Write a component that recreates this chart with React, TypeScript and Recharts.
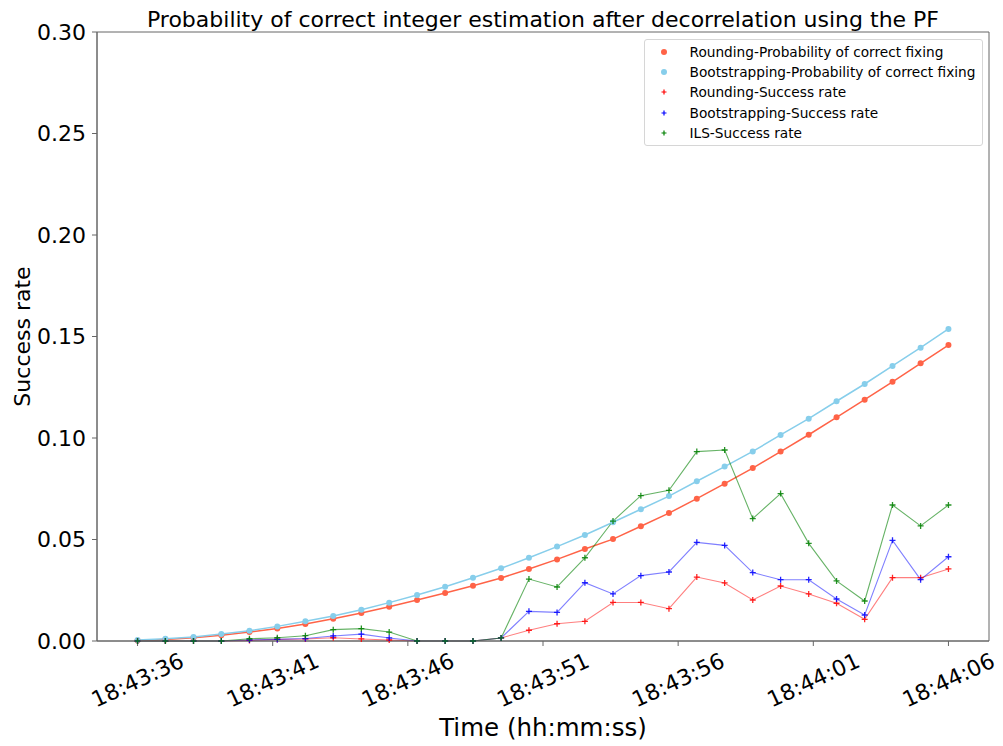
import React from "react";
import {
  LineChart,
  Line,
  XAxis,
  YAxis,
  ReferenceArea,
} from "recharts";

// seconds after 18:43:36 for each epoch
const sampleTimes = [
  0, 1.03, 2.07, 3.1, 4.14, 5.17, 6.21, 7.24, 8.28, 9.31, 10.34, 11.38, 12.41,
  13.45, 14.48, 15.52, 16.55, 17.59, 18.62, 19.66, 20.69, 21.72, 22.76, 23.79,
  24.83, 25.86, 26.9, 27.93, 28.97, 30,
];

const roundingProb = [
  0.0003, 0.0008, 0.0016, 0.0028, 0.0044, 0.0062, 0.0084, 0.011, 0.0138,
  0.0169, 0.0202, 0.0236, 0.0272, 0.031, 0.0355, 0.0402, 0.0453, 0.0502,
  0.0565, 0.063, 0.0701, 0.0775, 0.0852, 0.0933, 0.1016, 0.1102, 0.1189,
  0.1277, 0.1368, 0.1458,
];

const bootstrappingProb = [
  0.0005, 0.0011, 0.002, 0.0034, 0.0051, 0.0072, 0.0097, 0.0123, 0.0154,
  0.0189, 0.0227, 0.0267, 0.0312, 0.0358, 0.041, 0.0465, 0.0522, 0.0585,
  0.0649, 0.0714, 0.0787, 0.0859, 0.0934, 0.1015, 0.1095, 0.1181, 0.1266,
  0.1355, 0.1445, 0.1537,
];

const roundingSR = [
  0, 0, 0, 0, 0.0003, 0.0008, 0.001, 0.0016, 0.001, 0.0005, 0, 0, 0, 0.0015,
  0.0053, 0.0085, 0.0097, 0.019, 0.019, 0.0159, 0.0315, 0.0286, 0.0202,
  0.0271, 0.0232, 0.0186, 0.0107, 0.0312, 0.0312, 0.0355,
];

const bootstrappingSR = [
  0, 0, 0, 0, 0.0005, 0.0008, 0.0012, 0.0025, 0.0034, 0.0015, 0, 0, 0, 0.0015,
  0.0146, 0.0141, 0.0287, 0.0232, 0.0322, 0.034, 0.0486, 0.0471, 0.0337,
  0.0302, 0.0302, 0.0207, 0.0128, 0.0496, 0.0302, 0.0415,
];

const ilsSR = [
  0, 0, 0, 0, 0.0011, 0.0016, 0.0026, 0.0056, 0.0061, 0.0044, 0, 0, 0, 0.0015,
  0.0305, 0.0266, 0.041, 0.0591, 0.0716, 0.0742, 0.0933, 0.0941, 0.0603,
  0.0726, 0.0481, 0.0296, 0.0197, 0.067, 0.0567, 0.067,
];

const tickSeconds = [0, 5, 10, 15, 20, 25, 30];
const tickLabels = [
  "18:43:36",
  "18:43:41",
  "18:43:46",
  "18:43:51",
  "18:43:56",
  "18:44:01",
  "18:44:06",
];
const yTicks = [0, 0.05, 0.1, 0.15, 0.2, 0.25, 0.3];

const data = sampleTimes.map((t, i) => ({
  t,
  roundingProb: roundingProb[i],
  bootstrappingProb: bootstrappingProb[i],
  roundingSR: roundingSR[i],
  bootstrappingSR: bootstrappingSR[i],
  ilsSR: ilsSR[i],
}));

const FONT = "'DejaVu Sans', sans-serif";
const AXIS = "#666";

const series = [
  { key: "roundingProb", name: "Rounding-Probability of correct fixing", color: "#FF6347", kind: "dot" },
  { key: "bootstrappingProb", name: "Bootstrapping-Probability of correct fixing", color: "#87CEEB", kind: "dot" },
  { key: "roundingSR", name: "Rounding-Success rate", color: "#FF0000", kind: "plus" },
  { key: "bootstrappingSR", name: "Bootstrapping-Success rate", color: "#0000FF", kind: "plus" },
  { key: "ilsSR", name: "ILS-Success rate", color: "#008000", kind: "plus" },
];

function TimeTick(props: any) {
  const { x, y, payload } = props;
  const cy = y + 32;
  const label = tickLabels[tickSeconds.indexOf(payload.value)];
  return (
    <text
      x={x}
      y={cy}
      dy="0.35em"
      textAnchor="middle"
      fontSize={22}
      fontFamily={FONT}
      fill="#000"
      transform={`rotate(-25 ${x} ${cy})`}
    >
      {label}
    </text>
  );
}

function plusDot(color: string) {
  return (props: any) => {
    const { cx, cy, index } = props;
    if (cx == null || cy == null) return <g key={index} />;
    return (
      <path
        key={`${color}-${index}`}
        d={`M${cx - 3},${cy}h6M${cx},${cy - 3}v6`}
        stroke={color}
        strokeWidth={1.3}
        strokeOpacity={0.85}
        fill="none"
      />
    );
  };
}

function LegendBox() {
  return (
    <div
      style={{
        position: "absolute",
        left: 644,
        top: 39,
        width: 337,
        height: 105,
        border: "1px solid #d6d6d6",
        borderRadius: 3,
        background: "rgba(255,255,255,0.8)",
        fontFamily: FONT,
        fontSize: 13.7,
        color: "#000",
      }}
    >
      {series.map((s, i) => (
        <div
          key={s.key}
          style={{
            position: "absolute",
            left: 0,
            top: 1.7 + i * 20.3,
            height: 20,
            lineHeight: "20px",
            whiteSpace: "nowrap",
          }}
        >
          <svg
            width={10}
            height={10}
            style={{ position: "absolute", left: 13.7, top: 5 }}
          >
            {s.kind === "dot" ? (
              <circle cx={5} cy={5} r={3} fill={s.color} />
            ) : (
              <path d="M2.5,5h5M5,2.5v5" stroke={s.color} strokeWidth={1.2} />
            )}
          </svg>
          <span style={{ position: "absolute", left: 44.5 }}>{s.name}</span>
        </div>
      ))}
    </div>
  );
}

export default function App() {
  return (
    <div
      style={{
        position: "absolute",
        left: 0,
        top: 0,
        width: 1003,
        height: 746,
        background: "#fff",
      }}
    >
      <div
        style={{
          position: "absolute",
          left: 97,
          width: 892,
          top: 9.4,
          lineHeight: "22px",
          textAlign: "center",
          fontFamily: FONT,
          fontSize: 22,
          color: "#000",
          whiteSpace: "nowrap",
        }}
      >
        Probability of correct integer estimation after decorrelation using the PF
      </div>
      <LineChart
        width={1003}
        height={746}
        data={data}
        margin={{ top: 32, right: 14, bottom: 35, left: 7 }}
      >
        <XAxis
          dataKey="t"
          type="number"
          domain={[-1.5, 31.5]}
          ticks={tickSeconds}
          tick={<TimeTick />}
          tickSize={5}
          tickMargin={2}
          height={70}
          interval={0}
          stroke={AXIS}
          axisLine={{ stroke: AXIS }}
          tickLine={{ stroke: AXIS }}
          label={{
            value: "Time (hh:mm:ss)",
            position: "bottom",
            offset: 8,
            fontSize: 24.5,
            fontFamily: FONT,
            fill: "#000",
          }}
        />
        <YAxis
          type="number"
          domain={[0, 0.3]}
          ticks={yTicks}
          tickFormatter={(v: number) => v.toFixed(2)}
          width={90}
          tickSize={5}
          tickMargin={6}
          interval={0}
          axisLine={{ stroke: AXIS }}
          tickLine={{ stroke: AXIS }}
          tick={{ fontSize: 22, fontFamily: FONT, fill: "#000" }}
          label={{
            value: "Success rate",
            angle: -90,
            position: "insideLeft",
            offset: 15,
            fontSize: 22,
            fontFamily: FONT,
            fill: "#000",
            style: { textAnchor: "middle" },
          }}
        />
        <ReferenceArea
          x1={-1.5}
          x2={31.5}
          y1={0}
          y2={0.3}
          fill="none"
          fillOpacity={0}
          stroke={AXIS}
          strokeWidth={1}
        />
        <Line
          dataKey="roundingProb"
          stroke="#FF6347"
          strokeWidth={1.5}
          dot={{ r: 3, fill: "#FF6347", stroke: "none" }}
          isAnimationActive={false}
        />
        <Line
          dataKey="bootstrappingProb"
          stroke="#87CEEB"
          strokeWidth={1.5}
          dot={{ r: 3, fill: "#87CEEB", stroke: "none" }}
          isAnimationActive={false}
        />
        <Line
          dataKey="roundingSR"
          stroke="#FF0000"
          strokeOpacity={0.5}
          strokeWidth={1.1}
          dot={plusDot("#FF0000")}
          isAnimationActive={false}
        />
        <Line
          dataKey="bootstrappingSR"
          stroke="#0000FF"
          strokeOpacity={0.5}
          strokeWidth={1.1}
          dot={plusDot("#0000FF")}
          isAnimationActive={false}
        />
        <Line
          dataKey="ilsSR"
          stroke="#008000"
          strokeOpacity={0.6}
          strokeWidth={1.1}
          dot={plusDot("#008000")}
          isAnimationActive={false}
        />
      </LineChart>
      <LegendBox />
    </div>
  );
}
